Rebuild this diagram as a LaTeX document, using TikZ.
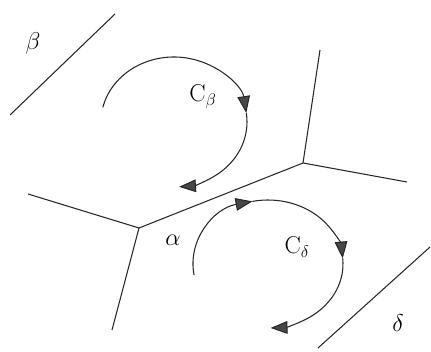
\documentclass[tikz,border=0pt]{standalone}
\usepackage{tikz}
\usetikzlibrary{arrows.meta}
\colorlet{lineclr}{black!85}
\colorlet{tipclr}{black!72}

\begin{document}
\begin{tikzpicture}[
    bnd/.style={lineclr, line width=0.75pt},
    circuit/.style={lineclr, line width=0.75pt,
      -{Triangle[length=12pt,width=9pt,fill=tipclr]}},
    lbl/.style={inner sep=1pt, font=\LARGE}
  ]
        \useasboundingbox (0cm,0cm) rectangle (10.775cm,8.775cm);

        % grain boundaries
        \coordinate (t1) at (7.575cm,4.7cm);
        \coordinate (t2) at (3.475cm,3.075cm);
        \coordinate (t1up) at (8cm,7.525cm);
        \coordinate (t1rt) at (10.175cm,4.225cm);
        \coordinate (t2lt) at (0.7cm,3.925cm);
        \coordinate (t2dn) at (2.8cm,0.525cm);
        \draw[bnd] (t1) -- (t1up) (t1) -- (t1rt) (t1) -- (t2);
        \draw[bnd] (t2) -- (t2lt) (t2) -- (t2dn);

        % phase boundaries
        \coordinate (b1) at (0.25cm,5.9cm);
        \coordinate (b2) at (2.875cm,8.425cm);
        \coordinate (d1) at (10.75cm,2.6cm);
        \coordinate (d2) at (7.95cm,0.075cm);
        \draw[bnd] (b1) -- (b2) (d1) -- (d2);

        % circuits
        \coordinate (cb) at (4.35cm,5.725cm);
        \draw[circuit] (cb) ++(167:1.825cm and 1.625cm)
          arc[start angle=167, end angle=8, x radius=1.825cm, y radius=1.625cm];
        \draw[circuit] (cb) ++(8:1.825cm and 1.625cm)
          arc[start angle=8, end angle=-86, x radius=1.825cm, y radius=1.625cm];

        \coordinate (cd) at (6.7cm,2.175cm);
        \draw[circuit] (cd) ++(190:1.875cm and 1.6cm)
          arc[start angle=190, end angle=102, x radius=1.875cm, y radius=1.6cm];
        \draw[circuit] (cd) ++(102:1.875cm and 1.6cm)
          arc[start angle=102, end angle=5, x radius=1.875cm, y radius=1.6cm];
        \draw[circuit] (cd) ++(5:1.875cm and 1.6cm)
          arc[start angle=5, end angle=-88, x radius=1.875cm, y radius=1.6cm];

        % labels
        \node[lbl] (beta) at (0.825cm,7.7cm) {\(\beta\)};
        \node[lbl] (delta) at (9.95cm,0.7cm) {\(\delta\)};
        \node[lbl] (alpha) at (4.325cm,2.775cm) {\(\alpha\)};
        \node[lbl] (cbeta) at (5.075cm,6.35cm) {\(\mathrm{C}_\beta\)};
        \node[lbl] (cdelta) at (7.425cm,2.6cm) {\(\mathrm{C}_\delta\)};
      \end{tikzpicture}
\end{document}
